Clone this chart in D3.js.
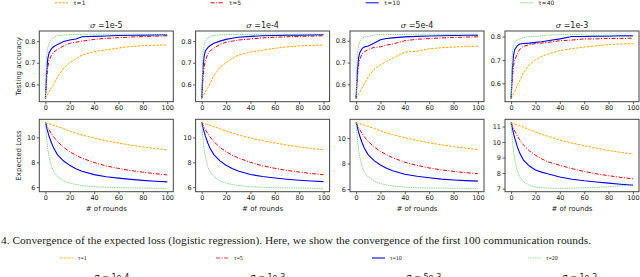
<!DOCTYPE html>
<html>
<head>
<meta charset="utf-8">
<script src="https://cdn.jsdelivr.net/npm/d3@7"></script>
<style>
  body { margin: 0; background: #fff; }
  svg { display: block; }
  text { font-family: "DejaVu Sans", sans-serif; fill: #222; }
  .serif { font-family: "Liberation Serif", "DejaVu Serif", serif; }
</style>
</head>
<body>
<div id="vis"></div>
<script>
const FRAME_WIDTH = 640;
const FRAME_HEIGHT = 277;

// data
const ROUNDS = [0, 1, 2, 3, 5, 7, 10, 15, 20, 25, 30, 40, 50, 60, 70, 80, 90, 100];
const SIGMAS = ["1e-5", "1e-4", "5e-4", "1e-3"];
const TAUS_TOP = ["τ=1", "τ=5", "τ=10", "τ=40"];
const TAUS_BOTTOM = ["τ=1", "τ=5", "τ=10", "τ=20"];
const SIGMAS_NEXT = ["1e-4", "1e-3", "5e-3", "1e-2"];
const X_TICKS = [0, 20, 40, 60, 80, 100];
const ACC_TICKS = [0.6, 0.7, 0.8];
const LOSS_TICKS = [[6, 8, 10], [6, 8, 10], [6, 8, 10], [7, 8, 9, 10, 11]];

const ACC_1E5 = [
  [0.535,0.545,0.555,0.565,0.585,0.60,0.635,0.675,0.70,0.718,0.735,0.752,0.76,0.768,0.775,0.779,0.781,0.783],
  [0.535,0.62,0.68,0.71,0.735,0.75,0.762,0.778,0.79,0.795,0.80,0.808,0.813,0.816,0.819,0.821,0.823,0.825],
  [0.535,0.66,0.72,0.745,0.765,0.775,0.785,0.798,0.805,0.81,0.82,0.822,0.824,0.826,0.827,0.828,0.829,0.83],
  [0.535,0.73,0.77,0.79,0.808,0.818,0.825,0.829,0.83,0.831,0.831,0.832,0.832,0.831,0.832,0.832,0.831,0.831]
];
const ACC_1E4 = [
  [0.535,0.545,0.556,0.566,0.585,0.605,0.64,0.68,0.70,0.72,0.735,0.75,0.758,0.767,0.773,0.778,0.78,0.782],
  [0.535,0.62,0.68,0.71,0.74,0.755,0.768,0.785,0.795,0.80,0.805,0.81,0.815,0.818,0.82,0.822,0.823,0.825],
  [0.535,0.67,0.73,0.755,0.77,0.78,0.79,0.80,0.808,0.813,0.818,0.822,0.825,0.826,0.828,0.828,0.829,0.83],
  [0.535,0.74,0.78,0.80,0.815,0.822,0.826,0.829,0.83,0.831,0.831,0.831,0.832,0.832,0.831,0.832,0.832,0.832]
];
const ACC_5E4 = [
  [0.535,0.545,0.555,0.565,0.585,0.605,0.635,0.67,0.69,0.705,0.72,0.748,0.752,0.763,0.768,0.771,0.774,0.775],
  [0.535,0.63,0.69,0.715,0.74,0.75,0.76,0.77,0.772,0.78,0.785,0.80,0.807,0.81,0.813,0.815,0.817,0.818],
  [0.535,0.66,0.72,0.745,0.765,0.772,0.776,0.79,0.805,0.81,0.813,0.818,0.82,0.822,0.823,0.824,0.825,0.826],
  [0.535,0.74,0.775,0.795,0.812,0.818,0.82,0.826,0.828,0.828,0.829,0.829,0.83,0.83,0.829,0.83,0.83,0.83]
];
const ACC_1E3 = [
  [0.535,0.545,0.555,0.565,0.59,0.61,0.645,0.68,0.70,0.715,0.725,0.74,0.748,0.755,0.76,0.765,0.768,0.77],
  [0.535,0.62,0.675,0.70,0.725,0.745,0.758,0.765,0.77,0.772,0.775,0.782,0.785,0.79,0.79,0.792,0.792,0.793],
  [0.535,0.66,0.72,0.745,0.76,0.768,0.77,0.772,0.775,0.778,0.782,0.79,0.80,0.80,0.802,0.802,0.803,0.803],
  [0.535,0.73,0.765,0.775,0.785,0.79,0.795,0.80,0.80,0.803,0.806,0.808,0.81,0.806,0.805,0.803,0.80,0.80]
];

const LOSS_1E5 = [
  [11.2,11.17,11.13,11.1,11.04,10.98,10.88,10.7,10.52,10.35,10.2,9.95,9.73,9.55,9.38,9.24,9.11,9.0],
  [11.2,11.0,10.8,10.62,10.3,10.02,9.65,9.2,8.85,8.57,8.33,7.98,7.7,7.5,7.33,7.2,7.08,6.98],
  [11.2,10.8,10.45,10.12,9.55,9.1,8.6,8.1,7.75,7.48,7.28,7.0,6.83,6.72,6.62,6.54,6.47,6.42],
  [11.2,9.95,9.05,8.45,7.65,7.2,6.85,6.5,6.33,6.2,6.12,6.03,5.98,5.95,5.93,5.92,5.9,5.89]
];
const LOSS_1E4 = [
  [11.2,11.17,11.13,11.1,11.04,10.98,10.88,10.7,10.53,10.36,10.21,9.96,9.74,9.56,9.39,9.25,9.12,9.01],
  [11.2,11.0,10.8,10.63,10.31,10.03,9.66,9.21,8.86,8.58,8.35,8.0,7.72,7.52,7.35,7.22,7.1,7.0],
  [11.2,10.8,10.46,10.13,9.56,9.11,8.62,8.12,7.77,7.5,7.3,7.02,6.86,6.74,6.64,6.56,6.5,6.45],
  [11.2,9.95,9.06,8.46,7.66,7.21,6.86,6.51,6.34,6.21,6.13,6.04,5.99,5.96,5.94,5.93,5.91,5.9]
];
const LOSS_5E4 = [
  [11.2,11.17,11.13,11.1,11.05,10.99,10.9,10.73,10.56,10.4,10.26,10.02,9.8,9.62,9.46,9.32,9.2,9.09],
  [11.2,11.0,10.82,10.65,10.33,10.06,9.72,9.28,8.95,8.68,8.45,8.1,7.85,7.65,7.5,7.38,7.28,7.2],
  [11.2,10.82,10.47,10.15,9.6,9.15,8.68,8.2,7.88,7.62,7.43,7.16,7.0,6.88,6.78,6.71,6.66,6.62],
  [11.2,9.98,9.1,8.5,7.72,7.28,6.95,6.6,6.43,6.32,6.24,6.15,6.1,6.08,6.07,6.06,6.05,6.05]
];
const LOSS_1E3 = [
  [11.25,11.22,11.19,11.16,11.1,11.05,10.96,10.8,10.65,10.5,10.38,10.13,9.93,9.76,9.6,9.46,9.33,9.22],
  [11.25,11.05,10.87,10.7,10.4,10.15,9.82,9.43,9.15,8.92,8.73,8.5,8.28,8.1,7.95,7.83,7.72,7.63],
  [11.25,10.88,10.55,10.25,9.72,9.3,8.85,8.45,8.2,8.06,7.95,7.75,7.6,7.5,7.42,7.35,7.28,7.22],
  [11.25,10.2,9.4,8.85,8.15,7.75,7.45,7.2,7.1,7.05,7.03,7.01,7.02,7.05,7.08,7.12,7.18,7.24]
];

const ACC = [ACC_1E5, ACC_1E4, ACC_5E4, ACC_1E3];
const LOSS = [LOSS_1E5, LOSS_1E4, LOSS_5E4, LOSS_1E3];

// styling
const COLORS = ["#ffa500", "#ff0000", "#0000ff", "#86d986"];
const DASHES = ["2.5,1.2", "4,1.5,1,1.5", null, "1.5,0.8"];
const WIDTHS = [1, 1, 1.1, 1];

const PANEL_LEFT = [39.3, 195.6, 350, 505];
const PANEL_W = 134;
const ROWS = [{top: 31, bottom: 101.7}, {top: 119.3, bottom: 191.7}];

const svg = d3.select("#vis")
  .append("svg")
    .attr("width", FRAME_WIDTH)
    .attr("height", FRAME_HEIGHT);

// matplotlib style 5% margin around the data
function padded(values) {
  const ext = d3.extent(values);
  const pad = (ext[1] - ext[0]) * 0.05;
  return [ext[0] - pad, ext[1] + pad];
}

function drawPanel(left, row, series, yTicks, yFormat) {
  const X_SCALE = d3.scaleLinear().domain([-5, 105]).range([left, left + PANEL_W]);
  const Y_SCALE = d3.scaleLinear().domain(padded(series.flat())).range([row.bottom, row.top]);

  const line = d3.line()
    .x((d, i) => X_SCALE(ROUNDS[i]))
    .y(d => Y_SCALE(d));

  const g = svg.append("g");

  series.forEach((s, k) => {
    g.append("path")
      .datum(s)
      .attr("d", line)
      .attr("fill", "none")
      .attr("stroke", COLORS[k])
      .attr("stroke-width", WIDTHS[k])
      .attr("stroke-dasharray", DASHES[k]);
  });

  // x axis
  const xAxis = g.append("g")
    .attr("transform", "translate(0," + row.bottom + ")")
    .call(d3.axisBottom(X_SCALE).tickValues(X_TICKS).tickSize(2.5).tickPadding(1.5));
  // y axis
  const yAxis = g.append("g")
    .attr("transform", "translate(" + left + ",0)")
    .call(d3.axisLeft(Y_SCALE).tickValues(yTicks).tickFormat(yFormat).tickSize(2.5).tickPadding(1.5));

  [xAxis, yAxis].forEach(ax => {
    ax.select(".domain").remove();
    ax.selectAll("line").attr("stroke", "#333").attr("stroke-width", 0.8);
    ax.selectAll("text").attr("font-size", "6.5px").attr("fill", "#222")
      .attr("font-family", "DejaVu Sans, sans-serif");
  });

  // frame
  g.append("rect")
    .attr("x", left)
    .attr("y", row.top)
    .attr("width", PANEL_W)
    .attr("height", row.bottom - row.top)
    .attr("fill", "none")
    .attr("stroke", "#444")
    .attr("stroke-width", 1);
}

SIGMAS.forEach((sig, p) => {
  const left = PANEL_LEFT[p];
  drawPanel(left, ROWS[0], ACC[p], ACC_TICKS, d3.format(".1f"));
  drawPanel(left, ROWS[1], LOSS[p], LOSS_TICKS[p], d3.format("d"));

  // title
  const title = svg.append("text")
    .attr("x", left + PANEL_W / 2)
    .attr("y", 27.5)
    .attr("text-anchor", "middle")
    .attr("font-size", "8px");
  title.append("tspan").attr("font-style", "italic").attr("font-family", "DejaVu Serif, serif").text("σ");
  title.append("tspan").text(" =" + sig);

  svg.append("text")
    .attr("x", left + PANEL_W / 2)
    .attr("y", 210.5)
    .attr("text-anchor", "middle")
    .attr("font-size", "7px")
    .text("# of rounds");
});

// y labels
svg.append("text")
  .attr("transform", "translate(21," + (ROWS[0].top + ROWS[0].bottom) / 2 + ") rotate(-90)")
  .attr("text-anchor", "middle")
  .attr("font-size", "7px")
  .text("Testing accuracy");

svg.append("text")
  .attr("transform", "translate(21," + (ROWS[1].top + ROWS[1].bottom) / 2 + ") rotate(-90)")
  .attr("text-anchor", "middle")
  .attr("font-size", "7px")
  .text("Expected Loss");

// top legend (cut by the crop)
const LEG_TOP_X = [55, 210.7, 365.7, 520];
TAUS_TOP.forEach((t, k) => {
  svg.append("line")
    .attr("x1", LEG_TOP_X[k]).attr("x2", LEG_TOP_X[k] + 13)
    .attr("y1", 2.8).attr("y2", 2.8)
    .attr("stroke", COLORS[k]).attr("stroke-width", 1)
    .attr("stroke-dasharray", DASHES[k]);
  svg.append("text")
    .attr("x", LEG_TOP_X[k] + 18)
    .attr("y", 5)
    .attr("font-size", "6px")
    .text(t);
});

// caption
svg.append("text")
  .attr("class", "serif")
  .attr("x", 1)
  .attr("y", 244)
  .attr("font-size", "10px")
  .attr("textLength", 590)
  .attr("lengthAdjust", "spacingAndGlyphs")
  .text("4.  Convergence of the expected loss (logistic regression). Here, we show the convergence of the first 100 communication rounds.");

// bottom legend of the next figure
const LEG_BOT_X = [60, 216, 372, 528];
TAUS_BOTTOM.forEach((t, k) => {
  svg.append("line")
    .attr("x1", LEG_BOT_X[k]).attr("x2", LEG_BOT_X[k] + 13)
    .attr("y1", 258).attr("y2", 258)
    .attr("stroke", COLORS[k]).attr("stroke-width", k == 2 ? 1.1 : 0.8)
    .attr("stroke-dasharray", DASHES[k]);
  svg.append("text")
    .attr("class", "serif")
    .attr("x", LEG_BOT_X[k] + 18)
    .attr("y", 260)
    .attr("font-size", "6px")
    .text(t);
});

// next figure titles, mostly below the bottom edge as in the crop
const NEXT_X = [112, 268, 424, 580];
SIGMAS_NEXT.forEach((s, k) => {
  svg.append("text")
    .attr("x", NEXT_X[k])
    .attr("y", 280)
    .attr("text-anchor", "middle")
    .attr("font-size", "8px")
    .text("σ = " + s);
});
</script>
</body>
</html>
